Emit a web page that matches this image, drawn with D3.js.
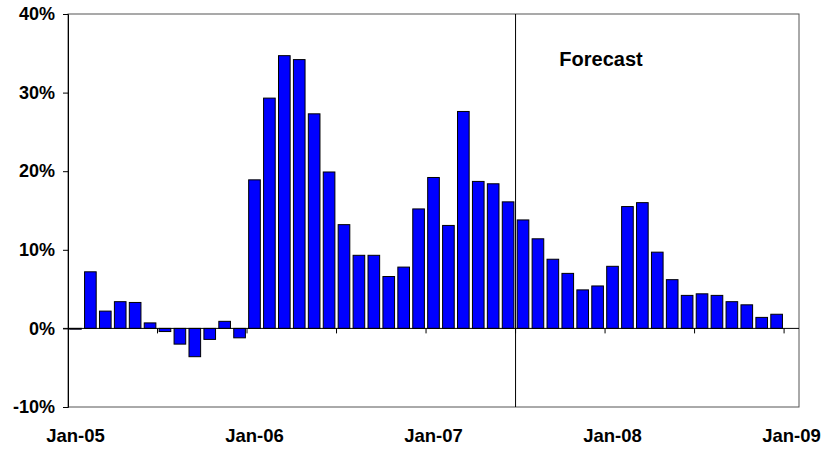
<!DOCTYPE html>
<html>
<head>
<meta charset="utf-8">
<script src="https://cdn.jsdelivr.net/npm/d3@7"></script>
<style>
  body { margin: 0; background: white; }
  text { font-family: "Liberation Sans", Arial, sans-serif; font-weight: bold; }
</style>
</head>
<body>
<div id="container"></div>
<script>
let w = 827;
let h = 454;

// monthly categories, Jan-05 .. Jan-09 (last one has no bar)
let months = ["Jan-05","Feb-05","Mar-05","Apr-05","May-05","Jun-05","Jul-05","Aug-05","Sep-05","Oct-05","Nov-05","Dec-05",
  "Jan-06","Feb-06","Mar-06","Apr-06","May-06","Jun-06","Jul-06","Aug-06","Sep-06","Oct-06","Nov-06","Dec-06",
  "Jan-07","Feb-07","Mar-07","Apr-07","May-07","Jun-07","Jul-07","Aug-07","Sep-07","Oct-07","Nov-07","Dec-07",
  "Jan-08","Feb-08","Mar-08","Apr-08","May-08","Jun-08","Jul-08","Aug-08","Sep-08","Oct-08","Nov-08","Dec-08",
  "Jan-09"];
// growth in percent
let growth = [-0.1, 7.2, 2.2, 3.4, 3.3, 0.7, -0.4, -2.0, -3.6, -1.4, 0.9, -1.2,
  18.9, 29.3, 34.7, 34.2, 27.3, 19.9, 13.2, 9.3, 9.3, 6.6, 7.8, 15.2,
  19.2, 13.1, 27.6, 18.7, 18.4, 16.1, 13.8, 11.4, 8.8, 7.0, 4.9, 5.4,
  7.9, 15.5, 16.0, 9.7, 6.2, 4.2, 4.4, 4.2, 3.4, 3.0, 1.4, 1.8];
let yTicks = [-10, 0, 10, 20, 30, 40];
let xLabels = ["Jan-05", "Jan-06", "Jan-07", "Jan-08", "Jan-09"];
let forecastStart = "Jul-07";

let data = growth.map(function(v, i){ return {month: months[i], value: v}; });

let xLeft = 68, xRight = 799, yTop = 14, yBottom = 407;

let viz = d3.select("#container")
  .append("svg")
    .attr("width", w)
    .attr("height", h)
    .style("background-color", "white")
;

let xScale = d3.scaleBand().domain(months).range([xLeft, xRight]).paddingInner(0.22).paddingOuter(0.11);
let yScale = d3.scaleLinear().domain([-10, 40]).range([yBottom, yTop]);
let step = xScale.step();
let edge = function(m){ return xScale(m) - xScale.paddingInner() * step / 2; };

// plot frame
viz.append("rect")
    .attr("x", xLeft)
    .attr("y", yTop)
    .attr("width", xRight - xLeft)
    .attr("height", yBottom - yTop)
    .attr("fill", "none")
    .attr("stroke", "#555")
    .attr("stroke-width", 1)
;

// bars
viz.selectAll(".bar").data(data).enter()
  .append("rect")
    .attr("class", "bar")
    .attr("x", function(d){ return xScale(d.month); })
    .attr("width", xScale.bandwidth())
    .attr("y", function(d){ return yScale(Math.max(0, d.value)); })
    .attr("height", function(d){ return Math.abs(yScale(d.value) - yScale(0)); })
    .attr("fill", "#0000ff")
    .attr("stroke", "black")
    .attr("stroke-width", 1)
;

// zero line with ticks every 6 months
let zeroY = yScale(0);
viz.append("line")
    .attr("x1", xLeft - 5).attr("x2", xRight)
    .attr("y1", zeroY).attr("y2", zeroY)
    .attr("stroke", "black")
;
let tickMonths = months.filter(function(m, i){ return i > 0 && i % 6 == 0; });
viz.selectAll(".xtick").data(tickMonths).enter()
  .append("line")
    .attr("class", "xtick")
    .attr("x1", function(d){ return edge(d); })
    .attr("x2", function(d){ return edge(d); })
    .attr("y1", zeroY)
    .attr("y2", zeroY + 5)
    .attr("stroke", "black")
;

// y axis
let yAxis = d3.axisLeft(yScale).tickValues(yTicks).tickSize(5).tickPadding(8)
  .tickFormat(function(d){ return d + "%"; });
let yAxisGroup = viz.append("g").attr("class", "yaxis")
  .attr("transform", "translate(" + xLeft + ",0)")
  .call(yAxis);
yAxisGroup.select(".domain").attr("stroke", "black");
yAxisGroup.selectAll("text")
  .attr("fill", "black")
  .style("font-size", "18px")
  .style("font-family", "'Liberation Sans', Arial, sans-serif")
  .style("font-weight", "bold");

// x labels
viz.selectAll(".xlabel").data(xLabels).enter()
  .append("text")
    .attr("class", "xlabel")
    .attr("x", function(d){ return xScale(d) + xScale.bandwidth() / 2; })
    .attr("y", 442)
    .attr("text-anchor", "middle")
    .style("font-size", "18.5px")
    .text(function(d){ return d; })
;

// forecast divider
let fx = edge(forecastStart);
viz.append("line")
    .attr("x1", fx).attr("x2", fx)
    .attr("y1", yTop).attr("y2", yBottom)
    .attr("stroke", "black")
;
viz.append("text")
    .attr("x", 601)
    .attr("y", 66)
    .attr("text-anchor", "middle")
    .style("font-size", "20px")
    .text("Forecast")
;
</script>
</body>
</html>
